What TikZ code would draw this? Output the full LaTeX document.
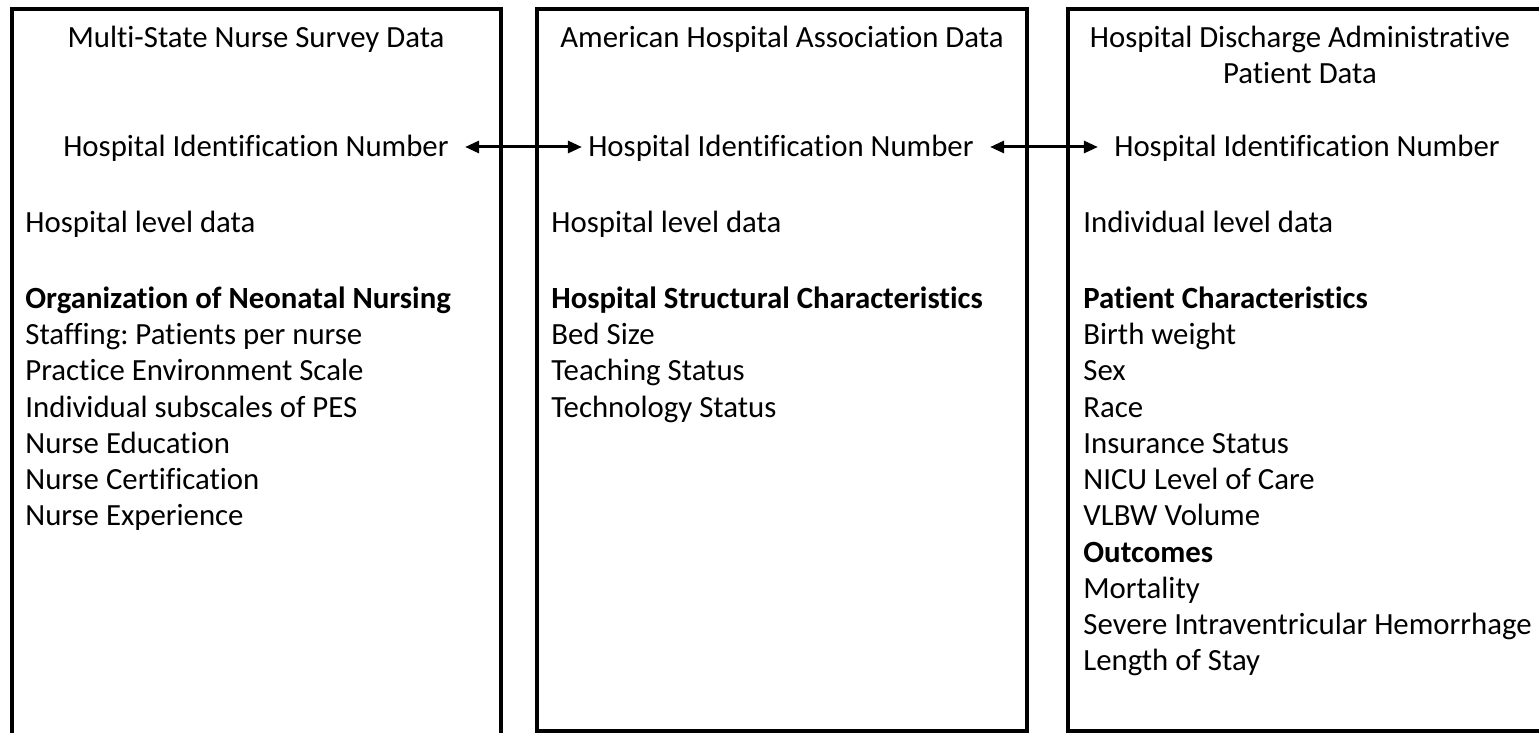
\documentclass[tikz,border=0pt]{standalone}
\usepackage{fontspec}
\setmainfont[RawFeature={-liga;-dlig;-clig}]{Carlito}
\usetikzlibrary{arrows.meta}
\frenchspacing

\tikzset{
  databox/.style={line width=1.6pt},
  line/.style={font=\fontsize{15.4}{18}\selectfont, inner sep=0pt, anchor=base west},
  head/.style={line, font=\fontsize{15.4}{18}\selectfont\bfseries},
  title/.style={line, anchor=base},
  link/.style={line width=1.5pt, {Triangle[length=7pt,width=6pt]}-{Triangle[length=7pt,width=6pt]}, shorten <=8pt, shorten >=8pt}
}

\begin{document}
\begin{tikzpicture}[x=0.5pt, y=-0.5pt]
    \useasboundingbox (0,0) rectangle (1539,733);
    % Draw the boxes
    \draw[databox] (12,9) rectangle (501,760);
    \draw[databox] (537,9) rectangle (1027,731);
    \draw[databox] (1068,9) rectangle (1560,731);
    % Multi-state nurse survey
    \node[title] (nurse) at (256,48) {Multi-State Nurse Survey Data};
    \node[title] (id1) at (256,157) {Hospital Identification Number};
    \node[line] (lev1) at (25,233) {Hospital level data};
    \node[head] (org) at (25,308) {Organization of Neonatal Nursing};
    \node[line] (staff) at (25,344) {Staffing: Patients per nurse};
    \node[line] (pes) at (25,380) {Practice Environment Scale};
    \node[line] (sub) at (25,417) {Individual subscales of PES};
    \node[line] (edu) at (25,453) {Nurse Education};
    \node[line] (cert) at (25,489) {Nurse Certification};
    \node[line] (exp) at (25,525) {Nurse Experience};
    % American hospital association
    \node[title] (aha) at (782,48) {American Hospital Association Data};
    \node[title] (id2) at (781,157) {Hospital Identification Number};
    \node[line] (lev2) at (551,233) {Hospital level data};
    \node[head] (struct) at (551,308) {Hospital Structural Characteristics};
    \node[line] (bed) at (551,344) {Bed Size};
    \node[line] (teach) at (551,380) {Teaching Status};
    \node[line] (tech) at (551,417) {Technology Status};
    % Hospital discharge data
    \node[title] (disch) at (1300,48) {Hospital Discharge Administrative};
    \node[title] (disch2) at (1300,84) {Patient Data};
    \node[title] (id3) at (1307,157) {Hospital Identification Number};
    \node[line] (lev3) at (1083,233) {Individual level data};
    \node[head] (pat) at (1083,308) {Patient Characteristics};
    \node[line] (bw) at (1083,344) {Birth weight};
    \node[line] (sex) at (1083,380) {Sex};
    \node[line] (race) at (1083,417) {Race};
    \node[line] (ins) at (1083,453) {Insurance Status};
    \node[line] (nicu) at (1083,489) {NICU Level of Care};
    \node[line] (vlbw) at (1083,525) {VLBW Volume};
    \node[head] (out) at (1083,562) {Outcomes};
    \node[line] (mort) at (1083,598) {Mortality};
    \node[line] (ivh) at (1083,634) {Severe Intraventricular Hemorrhage};
    \node[line] (los) at (1083,670) {Length of Stay};
    % Draw the links
    \draw[link, shorten >=3pt] (id1.base east) ++(0,-10) coordinate (a) -- (a -| id2.west);
    \draw[link] (id2.base east) ++(0,-10) coordinate (b) -- (b -| id3.west);
\end{tikzpicture}
\end{document}
